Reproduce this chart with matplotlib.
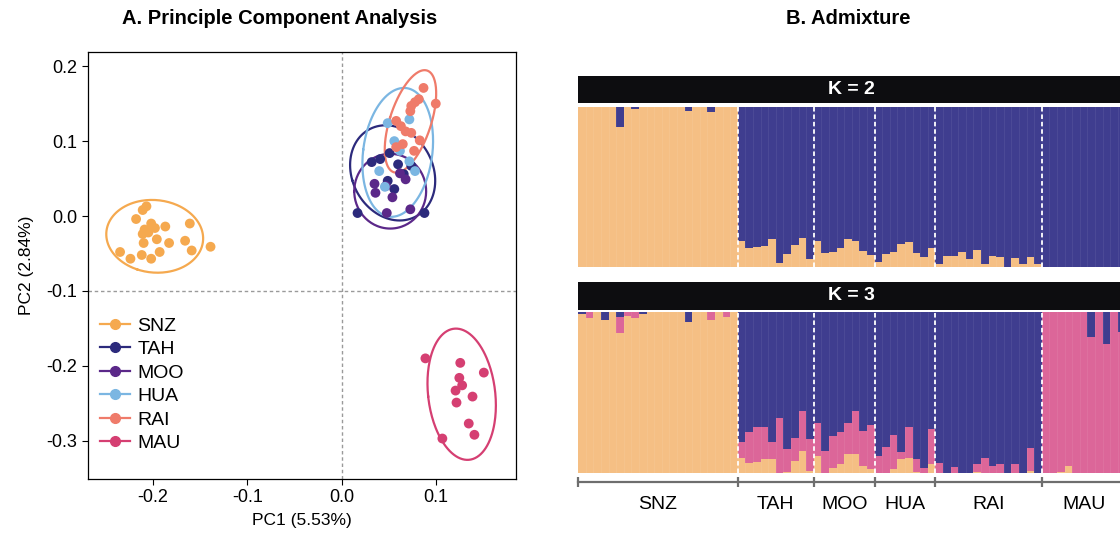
import numpy as np
import matplotlib
matplotlib.use('Agg')
import matplotlib.pyplot as plt
from matplotlib.lines import Line2D

plt.rcParams['font.family'] = ['Liberation Sans', 'DejaVu Sans']

pops = ["SNZ", "TAH", "MOO", "HUA", "RAI", "MAU"]
pop_colors = ["#F5A94F", "#2C2A7C", "#5B2889", "#7BB6E2", "#EF7B6A", "#D53F72"]

# PCA scores
pc1 = {
    "SNZ": [-0.207, -0.211, -0.218, -0.202, -0.209, -0.198, -0.187, -0.211, -0.205, -0.196, -0.21,
            -0.161, -0.183, -0.166, -0.139, -0.159, -0.235, -0.224, -0.212, -0.202, -0.193],
    "TAH": [0.017, 0.088, 0.041, 0.051, 0.066, 0.049, 0.032, 0.06, 0.074, 0.056],
    "MOO": [0.036, 0.048, 0.073, 0.047, 0.062, 0.068, 0.035, 0.054],
    "HUA": [0.049, 0.072, 0.072, 0.046, 0.078, 0.056, 0.062, 0.04],
    "RAI": [0.087, 0.1, 0.082, 0.078, 0.074, 0.073, 0.058, 0.063, 0.068, 0.074, 0.083, 0.065, 0.077, 0.058],
    "MAU": [0.089, 0.126, 0.151, 0.125, 0.128, 0.121, 0.122, 0.139, 0.135, 0.141, 0.107],
}
pc2 = {
    "SNZ": [0.013, 0.008, -0.004, -0.01, -0.018, -0.016, -0.014, -0.024, -0.022, -0.031, -0.036,
            -0.01, -0.036, -0.033, -0.041, -0.046, -0.048, -0.057, -0.052, -0.057, -0.048],
    "TAH": [0.004, 0.004, 0.076, 0.084, 0.056, 0.047, 0.072, 0.069, 0.067, 0.036],
    "MOO": [0.031, 0.004, 0.009, 0.04, 0.057, 0.049, 0.043, 0.025],
    "HUA": [0.124, 0.129, 0.073, 0.039, 0.06, 0.1, 0.087, 0.06],
    "RAI": [0.171, 0.15, 0.156, 0.152, 0.147, 0.14, 0.127, 0.12, 0.113, 0.111, 0.101, 0.096, 0.087, 0.092],
    "MAU": [-0.19, -0.196, -0.209, -0.216, -0.226, -0.233, -0.249, -0.241, -0.277, -0.292, -0.297],
}

# admixture proportions, one value per individual, grouped by population
group_sizes = [21, 10, 8, 8, 14, 11]
k2_orange = [1, 1, 1, 1, 1, 0.875, 1, 0.988, 1, 1, 1, 1, 1, 1, 0.97, 1, 1, 0.965, 1, 1, 1,
             0.16, 0.115, 0.12, 0.13, 0.17, 0.02, 0.08, 0.135, 0.177, 0.05,
             0.163, 0.088, 0.094, 0.115, 0.171, 0.16, 0.098, 0.073,
             0.027, 0.077, 0.094, 0.14, 0.152, 0.083, 0.06, 0.115,
             0.019, 0.067, 0.067, 0.094, 0.048, 0.104, 0.019, 0.069, 0.058, 0.0, 0.056, 0.015, 0.06, 0.019,
             0, 0, 0, 0, 0, 0, 0, 0, 0, 0, 0]
k3_orange = [0.988, 0.967, 1, 0.952, 1, 0.873, 0.98, 0.963, 0.992, 1, 1, 1, 1, 1, 0.942, 1, 1, 0.95, 1, 0.973, 1,
             0.089, 0.058, 0.067, 0.083, 0.083, 0.0, 0.006, 0.073, 0.135, 0.01,
             0.104, 0.0, 0.027, 0.052, 0.116, 0.116, 0.042, 0.021,
             0.0, 0.0, 0.021, 0.083, 0.089, 0.006, 0.0, 0.054,
             0, 0, 0, 0, 0, 0.006, 0, 0, 0, 0, 0, 0, 0.01, 0,
             0, 0, 0.005, 0.042, 0, 0, 0, 0, 0, 0, 0]
k3_pink = [0, 0.033, 0, 0, 0, 0.1, 0.02, 0.037, 0, 0, 0, 0, 0, 0, 0, 0, 0, 0.05, 0, 0.027, 0,
           0.104, 0.198, 0.216, 0.204, 0.11, 0.343, 0.142, 0.145, 0.25, 0.198,
           0.204, 0.137, 0.204, 0.204, 0.196, 0.269, 0.218, 0.274,
           0.104, 0.162, 0.214, 0.048, 0.194, 0.079, 0.027, 0.216,
           0.062, 0, 0.035, 0, 0, 0.046, 0.089, 0.042, 0.052, 0, 0.052, 0, 0.146, 0,
           1, 1, 0.995, 0.958, 1, 1, 0.844, 1, 0.8, 1, 0.88]

c_orange = "#F5BF84"
c_blue = "#3F3D8F"
c_pink = "#DC6699"


def cov_trob(x, nu=5, maxit=25, tol=0.01):
    # robust t covariance, same as MASS::cov.trob used by stat_ellipse
    n, p = x.shape
    loc = x.mean(axis=0)
    w = np.ones(n)
    for _ in range(maxit):
        w0 = w
        X = x - loc
        S = (w[:, None]*X).T @ X/w.sum()
        Q = np.sum((X @ np.linalg.inv(S))*X, axis=1)
        w = (nu + p)/(nu + Q)
        loc = (w[:, None]*x).sum(axis=0)/w.sum()
        if np.all(np.abs(w - w0) < tol):
            break
    cov = (w[:, None]*X).T @ X/n
    return loc, cov


def draw_ellipse(ax, x, y, color, level=0.95):
    pts = np.column_stack((x, y))
    d = len(pts) - 1
    center, cov = cov_trob(pts)
    fq = d/2*((1 - level)**(-2/d) - 1)
    r = np.sqrt(2*fq)
    vals, vecs = np.linalg.eigh(cov)
    t = np.linspace(0, 2*np.pi, 200)
    circ = np.vstack((np.cos(t), np.sin(t)))
    ell = vecs @ (np.sqrt(vals)[:, None]*circ)*r
    ax.plot(center[0] + ell[0], center[1] + ell[1], color=color, lw=1.6)


fig = plt.figure(figsize=(11.2, 5.38), dpi=100)

# ---- A. PCA
ax = fig.add_axes([0.0786, 0.1097, 0.382, 0.7937])
ax.axvline(0, color="#9a9a9a", lw=1, ls=(0, (2.5, 2)), zorder=0)
ax.axhline(-0.1, color="#9a9a9a", lw=1, ls=(0, (2.5, 2)), zorder=0)
for p, c in zip(pops, pop_colors):
    ax.scatter(pc1[p], pc2[p], s=50, color=c, edgecolors='none', zorder=3)
for p, c in zip(pops, pop_colors):
    draw_ellipse(ax, pc1[p], pc2[p], c)
ax.set_xlim(-0.269, 0.185)
ax.set_ylim(-0.351, 0.219)
ax.set_xticks([-0.2, -0.1, 0.0, 0.1])
ax.set_xticklabels(["-0.2", "-0.1", "0.0", "0.1"])
ax.set_yticks([-0.3, -0.2, -0.1, 0.0, 0.1, 0.2])
ax.set_yticklabels(["-0.3", "-0.2", "-0.1", "0.0", "0.1", "0.2"])
ax.tick_params(labelsize=13, length=4, width=0.8, colors="black")
ax.set_xlabel("PC1 (5.53%)", fontsize=12.5, labelpad=5)
ax.set_ylabel("PC2 (2.84%)", fontsize=12.5, labelpad=9)
for s in ax.spines.values():
    s.set_linewidth(0.9)
handles = [Line2D([0], [0], color=c, lw=1.6, marker='o', ms=7) for c in pop_colors]
ax.legend(handles, pops, loc="upper left", bbox_to_anchor=(-0.012, 0.42), frameon=False,
          fontsize=14, handlelength=1.5, labelspacing=0.3, handletextpad=0.4)
fig.text(0.25, 0.966, "A. Principle Component Analysis", ha="center", va="center",
         fontsize=14.5, fontweight="bold")

# ---- B. Admixture
fig.text(0.757, 0.966, "B. Admixture", ha="center", va="center", fontsize=14.5, fontweight="bold")
n_ind = sum(group_sizes)
xs = np.arange(n_ind) + 0.5
bounds = np.concatenate(([0], np.cumsum(group_sizes)))
centers = (bounds[:-1] + bounds[1:])/2
left, width = 0.5163, 0.4886

panels = [
    ("K = 2", [0.808, 0.0507], [0.5043, 0.2974], [k2_orange]),
    ("K = 3", [0.4238, 0.0526], [0.1214, 0.2981], [k3_orange, k3_pink]),
]
for label, strip_pos, bar_pos, comps in panels:
    sax = fig.add_axes([left, strip_pos[0], width, strip_pos[1]])
    sax.set_facecolor("#0d0d10")
    sax.set_xticks([])
    sax.set_yticks([])
    for s in sax.spines.values():
        s.set_visible(False)
    sax.text(0.5, 0.5, label, transform=sax.transAxes, ha="center", va="center",
             color="white", fontsize=14, fontweight="bold")

    bax = fig.add_axes([left, bar_pos[0], width, bar_pos[1]])
    bottom = np.zeros(n_ind)
    for vals, col in zip(comps, [c_orange, c_pink]):
        vals = np.array(vals, dtype=float)
        bax.bar(xs, vals, width=1, bottom=bottom, color=col, edgecolor=col, lw=0)
        bottom = bottom + vals
    bax.bar(xs, 1 - bottom, width=1, bottom=bottom, color=c_blue, lw=0)
    # faint individual separators
    for b in range(1, n_ind):
        bax.axvline(b, color="white", lw=0.4, alpha=0.12)
    for b in bounds[1:-1]:
        bax.axvline(b, color="white", lw=1.3, ls=(0, (2.5, 1.6)))
    bax.set_xlim(0, n_ind)
    bax.set_ylim(0, 1)
    bax.set_yticks([])
    for s in bax.spines.values():
        s.set_visible(False)
    bax.set_xticks([])

# bottom population axis on the K = 3 panel
bax.spines['bottom'].set_visible(True)
bax.spines['bottom'].set_position(('outward', 6.5))
bax.spines['bottom'].set_color("#6e6e6e")
bax.spines['bottom'].set_linewidth(1.6)
bax.set_xticks(bounds)
bax.set_xticklabels([])
bax.tick_params(axis='x', which='major', direction='inout', length=7, width=1.6, color="#6e6e6e")
bax.set_xticks(centers, minor=True)
bax.set_xticklabels(pops, minor=True)
bax.tick_params(axis='x', which='minor', length=0, pad=10, labelsize=14)

fig.savefig("out.png", dpi=100)
